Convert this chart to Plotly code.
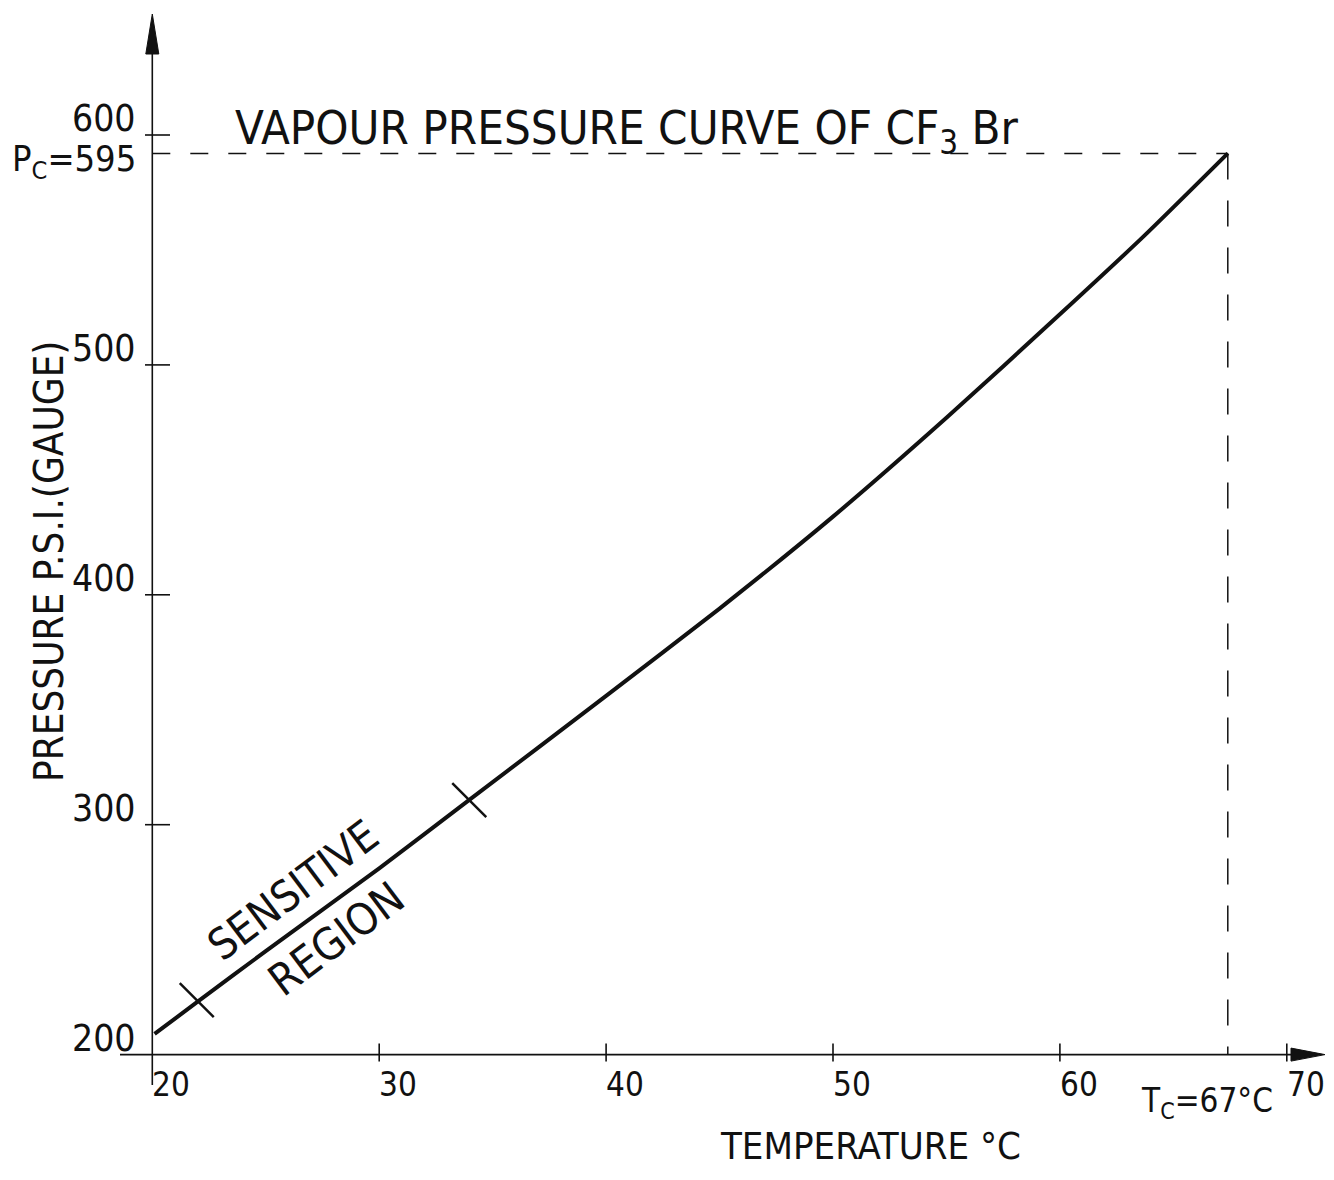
import plotly.graph_objects as go

# ---- data ----
temperature_c = [20.1, 22, 25, 30, 34, 40, 45, 50, 55, 60, 63.7, 67.4]
pressure_psig = [209, 223, 245, 281, 311, 356, 394, 434, 477, 522, 556, 592]
sensitive_limits_t = [21.96, 33.97]
sensitive_limits_p = [223.7, 310.7]
x_ticks = [20, 30, 40, 50, 60, 70]
y_ticks = [200, 300, 400, 500, 600]
tc_drawn = 67.4      # where the dashed critical-temperature line is drawn
pc_drawn = 592       # where the dashed critical-pressure line is drawn
tc_label = "T<sub>C</sub>=67°C"
pc_label = "P<sub>C</sub>=595"
title_text = "VAPOUR PRESSURE CURVE OF CF<sub>3</sub> Br"
x_title = "TEMPERATURE °C"
y_title = "PRESSURE P.S.I.(GAUGE)"

OFF = 8                      # default page body margin
W, H = 1334 - 2 * OFF, 1180 - 2 * OFF
# axis calibration (pixels per unit) (page pixels)
XS = 22.69                   # px per °C
YS = 2.299                   # px per psi
X0 = 13.288 + OFF / XS       # value at left edge of figure
Y0 = 658.72 - OFF / YS       # value at top edge of figure

def vx(px):
    return X0 + (px - OFF) / XS

def vy(py):
    return Y0 - (py - OFF) / YS

FONT = "Liberation Sans Narrow, DejaVu Sans Condensed, Arial Narrow, sans-serif"
BLACK = "#111111"

fig = go.Figure()

# main curve
fig.add_trace(go.Scatter(
    x=temperature_c, y=pressure_psig, mode="lines",
    line=dict(color=BLACK, width=4, shape="spline", smoothing=0.6),
    hoverinfo="skip", showlegend=False))

# sensitive-region cross marks
fig.add_trace(go.Scatter(
    x=sensitive_limits_t, y=sensitive_limits_p, mode="markers",
    marker=dict(symbol="line-nw", size=34, line=dict(color=BLACK, width=2.5)),
    hoverinfo="skip", showlegend=False))

shapes = []
px_axis_y = OFF + (Y0 - 200) * YS
px_axis_x = OFF + (20 - X0) * XS
# x axis line
shapes.append(dict(type="line", xref="x", yref="y", x0=vx(120), x1=vx(1295),
                   y0=200, y1=200, line=dict(color=BLACK, width=1.6)))
# y axis line
shapes.append(dict(type="line", xref="x", yref="y", x0=20, x1=20,
                   y0=vy(1085), y1=vy(50), line=dict(color=BLACK, width=1.6)))
# arrowheads
shapes.append(dict(type="path", xref="x", yref="y", fillcolor=BLACK,
                   line=dict(color=BLACK, width=1),
                   path=f"M {vx(1291)},{vy(px_axis_y-6.5)} L {vx(1325)},{vy(px_axis_y)} L {vx(1291)},{vy(px_axis_y+6.5)} Z"))
shapes.append(dict(type="path", xref="x", yref="y", fillcolor=BLACK,
                   line=dict(color=BLACK, width=1),
                   path=f"M {vx(px_axis_x-6.5)},{vy(54)} L {vx(px_axis_x)},{vy(14)} L {vx(px_axis_x+6.5)},{vy(54)} Z"))
# x ticks
for t in x_ticks[1:]:
    shapes.append(dict(type="line", xref="x", yref="y", x0=t, x1=t,
                       y0=vy(px_axis_y - 11), y1=vy(px_axis_y + 7),
                       line=dict(color=BLACK, width=1.6)))
# y ticks
for t in y_ticks[1:]:
    shapes.append(dict(type="line", xref="x", yref="y", x0=vx(145), x1=vx(170),
                       y0=t, y1=t, line=dict(color=BLACK, width=1.6)))
# dashed critical lines
shapes.append(dict(type="line", xref="x", yref="y", x0=20, x1=tc_drawn,
                   y0=pc_drawn, y1=pc_drawn,
                   line=dict(color=BLACK, width=1.5, dash="18px,20px")))
shapes.append(dict(type="line", xref="x", yref="y", x0=tc_drawn, x1=tc_drawn,
                   y0=pc_drawn, y1=200,
                   line=dict(color=BLACK, width=1.5, dash="26px,21px")))

annotations = []
# x tick labels (left aligned at tick)
for t in x_ticks:
    annotations.append(dict(x=t, y=200, xref="x", yref="y", text=str(t),
                            showarrow=False, xanchor="left", yanchor="top",
                            xshift=-2, yshift=-8,
                            font=dict(family=FONT, size=33, color=BLACK)))
# y tick labels (right aligned, sitting on tick)
for t in y_ticks:
    annotations.append(dict(x=20, y=t, xref="x", yref="y", text=str(t),
                            showarrow=False, xanchor="right", yanchor="bottom",
                            xshift=-14, yshift=-7,
                            font=dict(family=FONT, size=37, color=BLACK)))
annotations.append(dict(x=20, y=pc_drawn, xref="x", yref="y", text=pc_label,
                        showarrow=False, xanchor="right", yanchor="middle",
                        xshift=-14, yshift=-8,
                        font=dict(family=FONT, size=36, color=BLACK)))
annotations.append(dict(x=vx(1139), y=vy(1102), xref="x", yref="y", text=tc_label,
                        showarrow=False, xanchor="left", yanchor="middle",
                        font=dict(family=FONT, size=33, color=BLACK)))
annotations.append(dict(x=vx(233), y=vy(131), xref="x", yref="y", text=title_text,
                        showarrow=False, xanchor="left", yanchor="middle",
                        font=dict(family=FONT, size=47, color=BLACK)))
annotations.append(dict(x=vx(718), y=vy(1146), xref="x", yref="y", text=x_title,
                        showarrow=False, xanchor="left", yanchor="middle",
                        font=dict(family=FONT, size=38, color=BLACK)))
annotations.append(dict(x=vx(49), y=vy(562), xref="x", yref="y", text=y_title,
                        showarrow=False, xanchor="center", yanchor="middle",
                        textangle=-90,
                        font=dict(family=FONT, size=40, color=BLACK)))
annotations.append(dict(x=vx(293), y=vy(890), xref="x", yref="y", text="SENSITIVE",
                        showarrow=False, textangle=-37,
                        font=dict(family=FONT, size=43, color=BLACK)))
annotations.append(dict(x=vx(336), y=vy(938), xref="x", yref="y", text="REGION",
                        showarrow=False, textangle=-37,
                        font=dict(family=FONT, size=44, color=BLACK)))

fig.update_layout(
    width=W, height=H, autosize=False,
    margin=dict(l=0, r=0, t=0, b=0),
    paper_bgcolor="white", plot_bgcolor="white",
    xaxis=dict(range=[X0, X0 + W / XS], visible=False, fixedrange=True),
    yaxis=dict(range=[Y0 - H / YS, Y0], visible=False, fixedrange=True),
    shapes=shapes, annotations=annotations, showlegend=False,
)

fig.write_html("out.html")
